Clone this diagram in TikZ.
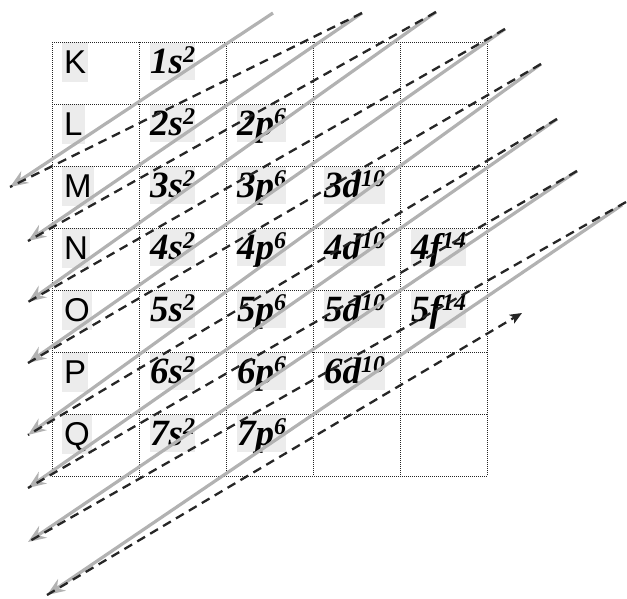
\documentclass[tikz,border=0pt]{standalone}
\usepackage{fontspec}
\setmainfont{Liberation Serif}
\newfontfamily\shellfont{Liberation Sans}
\usetikzlibrary{arrows.meta}

% orbital label: level, letter, electron count
\newcommand{\orb}[3]{#1#2\raisebox{11pt}{\fontsize{24}{24}\selectfont #3}}

\begin{document}
\begin{tikzpicture}[x=1pt, y=-1pt,
  % dotted table lines
  gridline/.style={line width=0.8pt, black!85, dash pattern=on 1pt off 1pt},
  % grey boxes behind the shell letters
  shell/.style={anchor=base west, fill=gray!15, inner xsep=2pt, inner ysep=0pt, text height=31pt, text depth=9pt, font=\shellfont\fontsize{33}{33}\selectfont},
  % grey boxes behind the orbitals
  orbital/.style={anchor=base west, fill=gray!15, inner xsep=0pt, inner ysep=0pt, text height=30pt, text depth=7pt, font=\bfseries\itshape\fontsize{37}{37}\selectfont},
  % grey diagonal arrows and black dashed diagonals
  fillline/.style={draw=gray!60, line width=3.2pt, -{Stealth[length=18pt, width=14pt, inset=6pt, fill=gray!70]}},
  dashline/.style={draw=black!85, line width=2.3pt, dash pattern=on 9pt off 6pt}
]
\useasboundingbox (0,0) rectangle (627,598);

% shell letters
\node[shell] (K) at (62,73)  {K};
\node[shell] (L) at (62,135) {L};
\node[shell] (M) at (62,197) {M};
\node[shell] (N) at (62,259) {N};
\node[shell] (O) at (62,321) {O};
\node[shell] (P) at (62,383) {P};
\node[shell] (Q) at (62,445) {Q};

% orbitals
\node[orbital] (s1) at (150,73)  {\orb{1}{s}{2}};
\node[orbital] (s2) at (150,135) {\orb{2}{s}{2}};
\node[orbital] (s3) at (150,197) {\orb{3}{s}{2}};
\node[orbital] (s4) at (150,259) {\orb{4}{s}{2}};
\node[orbital] (s5) at (150,321) {\orb{5}{s}{2}};
\node[orbital] (s6) at (150,383) {\orb{6}{s}{2}};
\node[orbital] (s7) at (150,445) {\orb{7}{s}{2}};
\node[orbital] (p2) at (237,135) {\orb{2}{p}{6}};
\node[orbital] (p3) at (237,197) {\orb{3}{p}{6}};
\node[orbital] (p4) at (237,259) {\orb{4}{p}{6}};
\node[orbital] (p5) at (237,321) {\orb{5}{p}{6}};
\node[orbital] (p6) at (237,383) {\orb{6}{p}{6}};
\node[orbital] (p7) at (237,445) {\orb{7}{p}{6}};
\node[orbital] (d3) at (324,197) {\orb{3}{d}{10}};
\node[orbital] (d4) at (324,259) {\orb{4}{d}{10}};
\node[orbital] (d5) at (324,321) {\orb{5}{d}{10}};
\node[orbital] (d6) at (324,383) {\orb{6}{d}{10}};
\node[orbital] (f4) at (411,259) {\orb{4}{f}{14}};
\node[orbital] (f5) at (411,321) {\orb{5}{f}{14}};

% table
\foreach \x in {52,139,226,313,400,487}
  \draw[gridline] (\x,42) -- (\x,476);
\foreach \y in {42,104,...,476}
  \draw[gridline] (52,\y) -- (487,\y);

% upper ends of the diagonals
\coordinate (t1) at (273,13);
\coordinate (t2) at (362,13);
\coordinate (t3) at (436,12);
\coordinate (t4) at (505,29);
\coordinate (t5) at (541,64);
\coordinate (t6) at (557,119);
\coordinate (t7) at (577,171);
\coordinate (t8) at (622,205);
% arrow tips on the left
\coordinate (a1) at (10,187);
\coordinate (a2) at (28,241);
\coordinate (a3) at (28,302);
\coordinate (a4) at (28,363);
\coordinate (a5) at (28,435);
\coordinate (a6) at (28,488);
\coordinate (a7) at (28,542);
\coordinate (a8) at (47,595);
\coordinate (end) at (522,313);

\draw[fillline] (t1) -- (a1);
\draw[fillline] (t2) -- (a2);
\draw[fillline] (t3) -- (a3);
\draw[fillline] (t4) -- (a4);
\draw[fillline] (t5) -- (a5);
\draw[fillline] (t6) -- (a6);
\draw[fillline] (t7) -- (a7);
\draw[fillline] (t8) -- (a8);

\draw[dashline] (t2) -- (a1);
\draw[dashline] (t3) -- (a2);
\draw[dashline] (t4) -- (a3);
\draw[dashline] (t5) -- (a4);
\draw[dashline] (t6) -- (a5);
\draw[dashline] (t7) -- (a6);
\draw[dashline] (626,202) -- (a7);
\draw[dashline, -{Stealth[length=12pt, width=10pt, inset=3pt]}] (a8) -- (end);

\end{tikzpicture}
\end{document}
